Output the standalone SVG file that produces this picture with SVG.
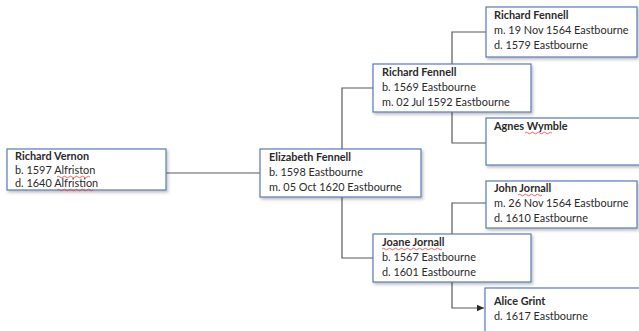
<svg xmlns="http://www.w3.org/2000/svg" width="639" height="331" viewBox="0 0 639 331">
<defs>
<style>
.box{fill:#fff;stroke:#5b7bb4;stroke-width:1.2;filter:url(#sh)}
.t{font-family:Lato,"Open Sans","Liberation Sans",sans-serif;font-size:10.9px;fill:#2a2a2a}
.b{font-weight:bold}
.c{fill:none;stroke:#5a5a5a;stroke-width:1.2}
.sq{fill:none;stroke:#e04040;stroke-width:0.8}
</style>
<filter id="sh" x="-10%" y="-20%" width="130%" height="160%">
<feDropShadow dx="1.5" dy="2" stdDeviation="1.5" flood-color="#000" flood-opacity="0.25"/>
</filter>
<marker id="ah" markerWidth="8" markerHeight="8" refX="7" refY="4" orient="auto" markerUnits="userSpaceOnUse">
<path d="M0,0.8 L7,4 L0,7.2 z" fill="#2a2a2a"/>
</marker>
</defs>
<rect width="639" height="331" fill="#fff"/>
<g id="connectors">
<path class="c" d="M166,173 H260"/>
<path class="c" d="M373,88 H342 V258 H373"/>
<path class="c" d="M486,32 H452 V143 H486"/>
<path class="c" d="M486,203 H452 V308 H484" marker-end="url(#ah)"/>
</g>
<g id="richard-vernon">
<rect class="box" x="7" y="149" width="159" height="41"/>
<text class="t b" x="15" y="160">Richard Vernon</text>
<text class="t" x="15" y="174">b. 1597 Alfriston</text>
<text class="t" x="15" y="187">d. 1640 Alfristion</text>
<path class="sq" d="M57,177 q1.5,-1.5 3,0 t3,0 t3,0 t3,0 t3,0 t3,0 t3,0 t3,0 t3,0 t3,0 t3,0"/>
<path class="sq" d="M57,190 q1.5,-1.5 3,0 t3,0 t3,0 t3,0 t3,0 t3,0 t3,0 t3,0 t3,0 t3,0 t3,0 t3,0"/>
</g>
<g id="elizabeth-fennell">
<rect class="box" x="260" y="149" width="161" height="48"/>
<text class="t b" x="269" y="161">Elizabeth Fennell</text>
<text class="t" x="269" y="176">b. 1598 Eastbourne</text>
<text class="t" x="269" y="191">m. 05 Oct 1620 Eastbourne</text>
</g>
<g id="richard-fennell-1569">
<rect class="box" x="373" y="64" width="158" height="48"/>
<text class="t b" x="382" y="76">Richard Fennell</text>
<text class="t" x="382" y="91">b. 1569 Eastbourne</text>
<text class="t" x="382" y="106">m. 02 Jul 1592 Eastbourne</text>
</g>
<g id="richard-fennell-sr">
<rect class="box" x="486" y="7" width="151" height="50"/>
<text class="t b" x="494" y="19">Richard Fennell</text>
<text class="t" x="494" y="34">m. 19 Nov 1564 Eastbourne</text>
<text class="t" x="494" y="49">d. 1579 Eastbourne</text>
</g>
<g id="agnes-wymble">
<rect class="box" x="486" y="118" width="155" height="47"/>
<text class="t b" x="494" y="130">Agnes Wymble</text>
<path class="sq" d="M525,133 q1.5,-1.5 3,0 t3,0 t3,0 t3,0 t3,0 t3,0 t3,0 t3,0 t3,0"/>
</g>
<g id="john-jornall">
<rect class="box" x="486" y="181" width="151" height="47"/>
<text class="t b" x="494" y="192">John Jornall</text>
<text class="t" x="494" y="207">m. 26 Nov 1564 Eastbourne</text>
<text class="t" x="494" y="222">d. 1610 Eastbourne</text>
<path class="sq" d="M518,195 q1.5,-1.5 3,0 t3,0 t3,0 t3,0 t3,0 t3,0 t3,0 t3,0"/>
</g>
<g id="joane-jornall">
<rect class="box" x="373" y="234" width="158" height="48"/>
<text class="t b" x="382" y="246">Joane Jornall</text>
<text class="t" x="382" y="261">b. 1567 Eastbourne</text>
<text class="t" x="382" y="276">d. 1601 Eastbourne</text>
<path class="sq" d="M382,249 q1.5,-1.5 3,0 t3,0 t3,0 t3,0 t3,0 t3,0 t3,0 t3,0 t3,0 t3,0 t3,0 t3,0 t3,0 t3,0 t3,0 t3,0 t3,0 t3,0 t3,0 t3,0"/>
</g>
<g id="alice-grint">
<rect class="box" x="485" y="288" width="160" height="50"/>
<text class="t b" x="494" y="305">Alice Grint</text>
<text class="t" x="494" y="320">d. 1617 Eastbourne</text>
</g>
</svg>
